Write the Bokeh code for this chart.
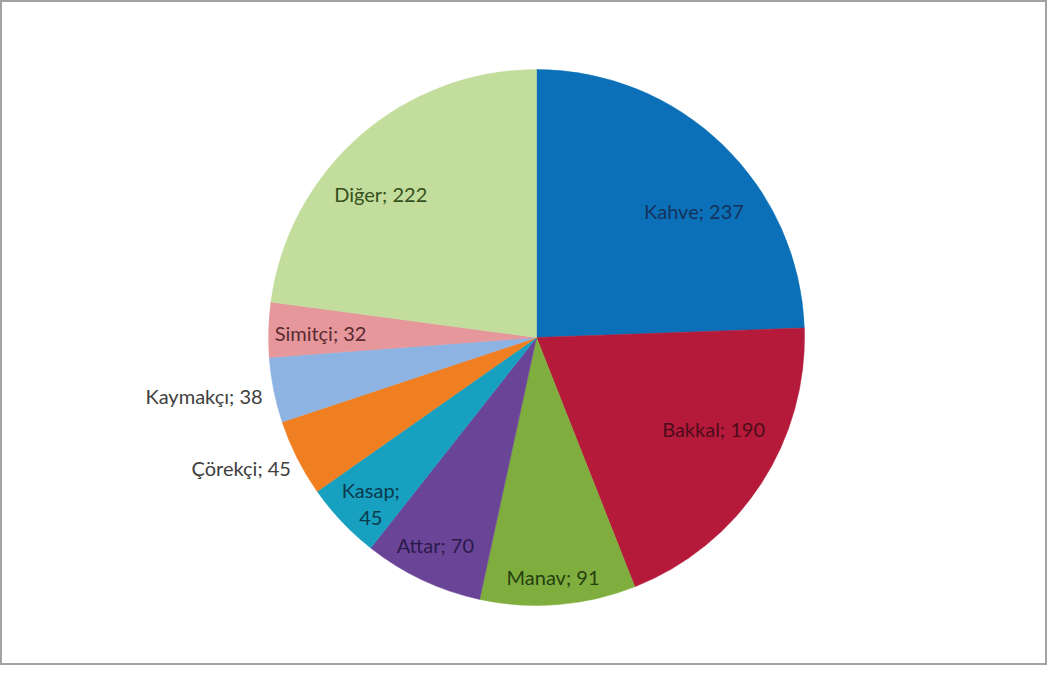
import math
from bokeh.plotting import figure
from bokeh.models import Range1d, ColumnDataSource
from bokeh.core.properties import value
from bokeh.embed import file_html
from bokeh.resources import INLINE

categories = ["Kahve", "Bakkal", "Manav", "Attar", "Kasap", "Çörekçi", "Kaymakçı", "Simitçi", "Diğer"]
values = [237, 190, 91, 70, 45, 45, 38, 32, 222]
slice_colors = ["#0B70B8", "#B51A3B", "#7FAE3F", "#6A4597", "#18A0C1", "#F07F22", "#8DB3E2", "#E5979B", "#C3DD9C"]
label_colors = ["#14325C", "#4E0C1A", "#26400F", "#2B1A4C", "#0B3A4A", "#404040", "#404040", "#5A2A30", "#35501C"]
# label placement: radius fraction, angular nudge (deg) from slice middle
label_r = [0.754, 0.743, 0.896, 0.863, 0.875, 1.037, 1.045, 0.806, 0.791]
label_nudge = [7.2, -6.0, 0.7, 0.7, -1.6, -1.2, -0.7, -0.4, -6.1]
label_outside = [False, False, False, False, False, True, True, False, False]
label_wrap = [False, False, False, False, True, False, False, False, False]

W, H = 1047, 665
cx, cy, R = 536, H - 337, 268

total = sum(values)
starts, ends, lx, ly, texts, aligns = [], [], [], [], [], []
cum = 0.0
for i, v in enumerate(values):
    t0 = cum / total * 2 * math.pi
    cum += v
    t1 = cum / total * 2 * math.pi
    starts.append(math.pi / 2 - t1)
    ends.append(math.pi / 2 - t0)
    tm = (t0 + t1) / 2 + math.radians(label_nudge[i])
    r = R * label_r[i]
    lx.append(cx + r * math.sin(tm))
    ly.append(cy + r * math.cos(tm))
    sep = ";\n" if label_wrap[i] else "; "
    texts.append(f"{categories[i]}{sep}{v}")
    aligns.append("right" if label_outside[i] else "center")

src = ColumnDataSource(dict(start=starts, end=ends, color=slice_colors))
lsrc = ColumnDataSource(dict(x=lx, y=ly, text=texts, color=label_colors, align=aligns))

p = figure(width=W, height=H, x_range=Range1d(0, W), y_range=Range1d(0, H),
           output_backend="svg", toolbar_location=None, min_border=0)
p.axis.visible = False
p.grid.visible = False
p.background_fill_color = "white"
p.outline_line_color = "#A3A3A3"
p.outline_line_width = 3

p.wedge(x=cx, y=cy, radius=R, start_angle="start", end_angle="end",
        fill_color="color", line_color="color", line_width=0.5, source=src)
p.text(x="x", y="y", text="text", text_color="color", text_align="align",
       text_baseline="middle", text_font=value("Lato"), text_font_size="20px",
       text_line_height=1.1, source=lsrc)

open("out.html", "w").write(file_html(p, INLINE))
